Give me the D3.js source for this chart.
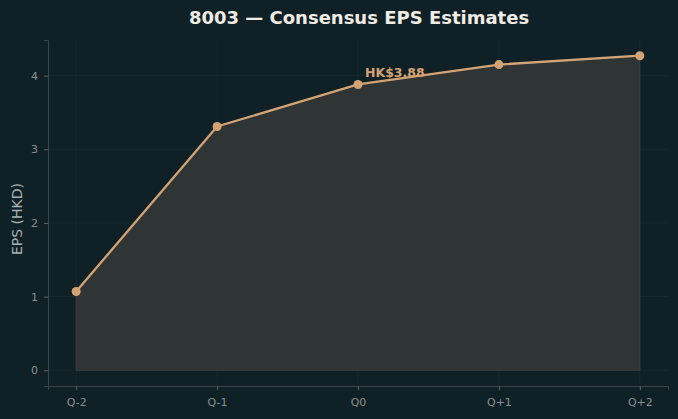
<!DOCTYPE html>
<html><head><meta charset="utf-8">
<script src="https://cdn.jsdelivr.net/npm/d3@7"></script>
<style>body{margin:0;background:#0f2027;}svg{display:block;font-family:"DejaVu Sans",sans-serif;}</style>
</head><body>
<svg id="c" width="678" height="419"></svg>
<script>
const categories = ["Q-2","Q-1","Q0","Q+1","Q+2"];
const eps = [1.07, 3.31, 3.88, 4.15, 4.27];
const yTicks = [0,1,2,3,4];
const annotation = "HK$3.88";

const W=678,H=419, L=48, R=668, T=40, B=386;
const svg=d3.select("#c");
svg.append("rect").attr("width",W).attr("height",H).attr("fill","#0f2027");
const x=d3.scaleLinear().domain([-0.2,4.2]).range([L,R]);
const y=d3.scaleLinear().domain([-0.2135,4.4835]).range([B,T]);

// grid
const g=svg.append("g");
g.selectAll(".gy").data(yTicks).join("line").attr("x1",L).attr("x2",R).attr("y1",d=>y(d)).attr("y2",d=>y(d)).attr("stroke","#1a2a30").attr("stroke-width",0.8);
g.selectAll(".gx").data(categories).join("line").attr("x1",(d,i)=>x(i)).attr("x2",(d,i)=>x(i)).attr("y1",T).attr("y2",B).attr("stroke","#1a2a30").attr("stroke-width",0.8);

// area
const data=eps.map((v,i)=>({i,v}));
svg.append("path").datum(data).attr("d",d3.area().x(d=>x(d.i)).y0(y(0)).y1(d=>y(d.v)))
  .attr("fill","#2f3434").attr("stroke","#3c403c").attr("stroke-width",1);
svg.append("path").datum(data).attr("d",d3.line().x(d=>x(d.i)).y(d=>y(d.v)))
  .attr("fill","none").attr("stroke","#d4a373").attr("stroke-width",2.3);
svg.selectAll(".pt").data(data).join("circle").attr("cx",d=>x(d.i)).attr("cy",d=>y(d.v)).attr("r",4.5).attr("fill","#d4a373");

// annotation
svg.append("text").attr("x",x(2)+7).attr("y",y(eps[2])-7).text(annotation)
  .attr("fill","#d4a373").attr("font-size",12.5).attr("font-weight","bold");

// axes
const ax=svg.append("g").attr("transform",`translate(0,${B})`).call(d3.axisBottom(x).tickValues([0,1,2,3,4]).tickFormat(i=>categories[i]).tickSize(4).tickPadding(8));
const ay=svg.append("g").attr("transform",`translate(${L},0)`).call(d3.axisLeft(y).tickValues(yTicks).tickFormat(d3.format("d")).tickSize(4).tickPadding(6));
[ax,ay].forEach(a=>{
  a.select(".domain").attr("stroke","#3b4446");
  a.selectAll(".tick line").attr("stroke","#5a6466");
  a.selectAll("text").attr("fill","#8a9090").attr("font-size",11).attr("font-family","DejaVu Sans");
});

svg.append("text").attr("transform",`translate(17,${(T+B)/2+6}) rotate(-90)`).attr("text-anchor","middle").attr("dy","0.35em")
  .text("EPS (HKD)").attr("fill","#aab0b0").attr("font-size",14);
svg.append("text").attr("x",359).attr("y",24).attr("text-anchor","middle").text("8003 — Consensus EPS Estimates")
  .attr("fill","#f0ece4").attr("font-size",18).attr("font-weight","bold");
</script>
</body></html>
